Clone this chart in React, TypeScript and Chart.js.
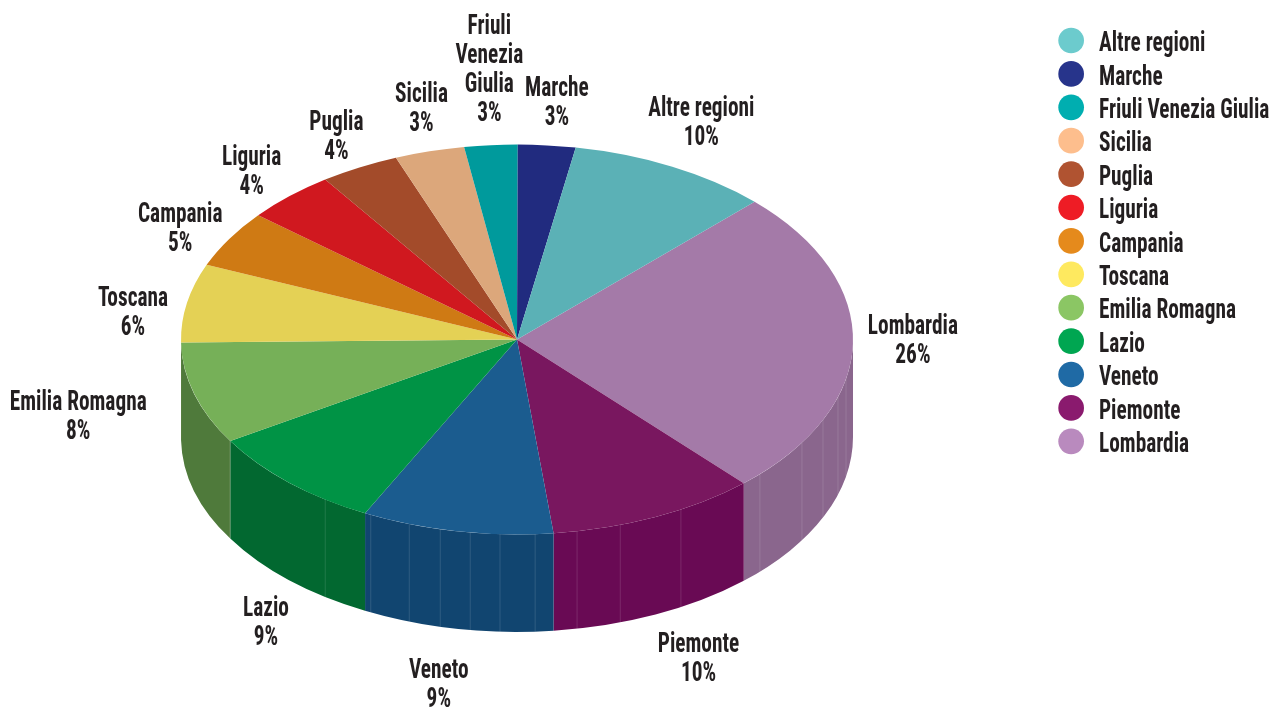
import React, { useEffect, useRef } from "react";
import { Chart, registerables } from "chart.js";

Chart.register(...registerables);

const categories = ["Lombardia", "Piemonte", "Veneto", "Lazio", "Emilia Romagna", "Toscana", "Campania", "Liguria", "Puglia", "Sicilia", "Friuli Venezia Giulia", "Marche", "Altre regioni"];
const shares = [25.7, 10.05, 9.2, 8.8, 8.49, 6.49, 4.75, 4.32, 3.8, 3.35, 2.55, 2.76, 9.7];
const topColors = ["#a47aa8", "#79175f", "#1b5c8f", "#009345", "#76b058", "#e4d155", "#cf7a14", "#d0181f", "#a34b2a", "#dca77b", "#009a9c", "#212b7f", "#5bb1b6"];
const wallColors = ["#8a668d", "#690a54", "#114570", "#026830", "#4f7a3b", "#a8983e", "#96590f", "#980f14", "#76361e", "#a07a5a", "#007071", "#181f5c", "#428085"];
const legendColors = ["#b98abe", "#8a1a6e", "#1f6aa5", "#00a651", "#8bc664", "#fee95f", "#e58a1c", "#ee1c25", "#b05331", "#fdbe8d", "#00aeb0", "#27348b", "#6ccbcd"];
const sliceLabelLines = [["Lombardia"], ["Piemonte"], ["Veneto"], ["Lazio"], ["Emilia Romagna"], ["Toscana"], ["Campania"], ["Liguria"], ["Puglia"], ["Sicilia"], ["Friuli", "Venezia", "Giulia"], ["Marche"], ["Altre regioni"]];
const labelOffsetX = [60, 43, -18, -23, -116, -54, -49, -38, -23, -8, -1.5, 10, 29];
const labelOffsetY = [-2, 143, 155, 141, 24, 11, -9, -23, -30, -42, -74, -42, -43];
// facet seams on the outer wall, degrees clockwise from the top of the pie
const wallSeams = [101.7, 107.2, 114.4, 122, 133.7, 150.8, 162.1, 169.7, 176.9, 182.9, 188, 193.2, 198.7, 205.8, 214.8, 238.7];

const FONT = '"Liberation Sans Narrow", "Roboto Condensed", "Liberation Sans", sans-serif';
const TEXT = "#231f20";
const FONT_SIZE = 27;
const TEXT_SQUEEZE = 0.79;
const CENTER_X = 517;
const CENTER_Y = 339.5;
const TILT = 0.58;
const DEPTH = 97.5;
const LEGEND_LEFT = 1058.3;
const LEGEND_TOP = 27;
const LEGEND_TEXT_SHIFT_X = 1.5;
const LEGEND_TEXT_SHIFT_Y = 4;

function squeezedFillText(ctx: any, base: any, dx = 0, dy = 0) {
  return (text: string, x: number, y: number) => {
    ctx.save();
    ctx.translate(x + dx, y + dy);
    ctx.scale(TEXT_SQUEEZE, 1);
    base(text, 0, 0);
    ctx.restore();
  };
}

const pie3d = {
  id: "pie3d",
  afterLayout(chart: any) {
    const legend = chart.legend;
    const pad = legend.options.labels.padding;
    legend.left = LEGEND_LEFT - pad;
    legend.top = LEGEND_TOP - pad;
    if (!legend.__squeezed) {
      legend.__squeezed = true;
      const draw = legend.draw.bind(legend);
      legend.draw = (...args: any[]) => {
        const ctx = chart.ctx;
        const base = ctx.fillText;
        ctx.fillText = squeezedFillText(ctx, base.bind(ctx), LEGEND_TEXT_SHIFT_X, LEGEND_TEXT_SHIFT_Y);
        draw(...args);
        delete ctx.fillText;
      };
    }
  },
  beforeDatasetsDraw(chart: any) {
    const ctx = chart.ctx;
    const arcs = chart.getDatasetMeta(0).data;
    const a0 = arcs[0];
    ctx.save();
    ctx.translate(CENTER_X, CENTER_Y);
    ctx.scale(1, TILT);
    ctx.translate(-a0.x, -a0.y);
    const d = DEPTH / TILT;
    arcs.forEach((arc: any, i: number) => {
      [-2 * Math.PI, 0, 2 * Math.PI].forEach((shift) => {
        const s = Math.max(arc.startAngle + shift, 0);
        const e = Math.min(arc.endAngle + shift, Math.PI);
        if (e <= s) return;
        ctx.beginPath();
        ctx.arc(arc.x, arc.y, arc.outerRadius, s, e);
        ctx.arc(arc.x, arc.y + d, arc.outerRadius, e, s, true);
        ctx.closePath();
        ctx.fillStyle = wallColors[i];
        ctx.fill();
      });
    });
    ctx.lineWidth = 0.8;
    ctx.strokeStyle = "rgba(255,255,255,0.2)";
    wallSeams.forEach((deg) => {
      const t = ((deg - 90) * Math.PI) / 180;
      const x = a0.x + a0.outerRadius * Math.cos(t);
      const y = a0.y + a0.outerRadius * Math.sin(t);
      ctx.beginPath();
      ctx.moveTo(x, y);
      ctx.lineTo(x, y + d);
      ctx.stroke();
    });
  },
  afterDatasetsDraw(chart: any) {
    const ctx = chart.ctx;
    ctx.restore();
    const arcs = chart.getDatasetMeta(0).data;
    ctx.save();
    ctx.fillStyle = TEXT;
    ctx.font = `bold ${FONT_SIZE}px ${FONT}`;
    ctx.textAlign = "center";
    ctx.textBaseline = "middle";
    const put = squeezedFillText(ctx, ctx.fillText.bind(ctx));
    arcs.forEach((arc: any, i: number) => {
      const mid = (arc.startAngle + arc.endAngle) / 2;
      const x = CENTER_X + arc.outerRadius * Math.cos(mid) + labelOffsetX[i];
      const y = CENTER_Y + arc.outerRadius * TILT * Math.sin(mid) + labelOffsetY[i];
      const lines = [...sliceLabelLines[i], `${Math.round(shares[i])}%`];
      lines.forEach((line, j) => {
        put(line, x, y + (j - (lines.length - 1) / 2) * 29);
      });
    });
    ctx.restore();
  },
};

export default function App() {
  const ref = useRef<HTMLCanvasElement>(null);
  useEffect(() => {
    document.body.style.margin = "0";
    const chart = new Chart(ref.current as HTMLCanvasElement, {
      type: "pie",
      data: {
        labels: categories,
        datasets: [{ data: shares, backgroundColor: topColors, borderWidth: 0, clip: false } as any],
      },
      plugins: [pie3d as any],
      options: {
        animation: false,
        responsive: false,
        rotation: 45,
        radius: 336,
        layout: { padding: 0 },
        plugins: {
          tooltip: { enabled: false },
          legend: {
            position: "right",
            align: "start",
            labels: {
              color: TEXT,
              font: { family: FONT, size: FONT_SIZE, weight: "bold" },
              usePointStyle: true,
              pointStyleWidth: 25.7,
              boxHeight: 18.2,
              padding: 6.4,
              generateLabels: (c: any) =>
                (c.data.labels as string[])
                  .map((text, i) => ({
                    text,
                    fillStyle: legendColors[i],
                    strokeStyle: legendColors[i],
                    lineWidth: 0,
                    pointStyle: "circle",
                    fontColor: TEXT,
                    hidden: false,
                    index: i,
                  }))
                  .reverse(),
            },
          },
        },
      } as any,
    });
    chart.update();
    return () => chart.destroy();
  }, []);
  return (
    <div style={{ position: "absolute", left: 0, top: 0, width: 1277, height: 711, background: "#fff" }}>
      <canvas ref={ref} width={1277} height={711} style={{ display: "block" }} />
    </div>
  );
}
